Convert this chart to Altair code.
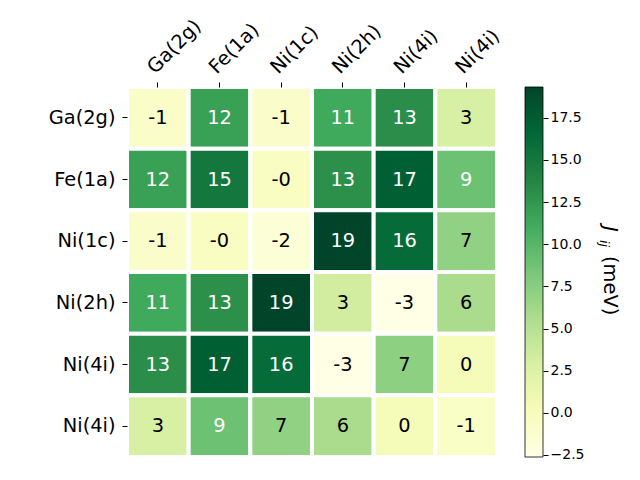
import altair as alt
import pandas as pd

names = ["Ga(2g)", "Fe(1a)", "Ni(1c)", "Ni(2h)", "Ni(4i)", "Ni(4i)"]
row_ga = [-0.8, 11.8, -0.9, 11.2, 13.2, 2.9]
row_fe = [11.8, 15.1, -0.4, 13.0, 17.3, 8.9]
row_n1 = [-0.9, -0.4, -1.6, 19.33, 16.2, 7.1]
row_n2 = [11.2, 13.0, 19.33, 3.3, -2.62, 5.7]
row_n4 = [13.2, 17.3, 16.2, -2.62, 7.2, 0.3]
row_n5 = [2.9, 8.9, 7.1, 5.7, 0.3, -0.7]
matrix = [row_ga, row_fe, row_n1, row_n2, row_n4, row_n5]
cbar_ticks = [-2.5, 0.0, 2.5, 5.0, 7.5, 10.0, 12.5, 15.0, 17.5]

ylgn = ["#ffffe5", "#f7fcb9", "#d9f0a3", "#addd8e", "#78c679",
        "#41ab5d", "#238443", "#006837", "#004529"]

records = []
for i, r in enumerate(matrix):
    for j, v in enumerate(r):
        records.append({"row": i, "col": j, "v": v, "lab": f"{v:.0f}"})
df = pd.DataFrame(records)

lo = min(min(r) for r in matrix)
hi = max(max(r) for r in matrix)
n = len(ylgn)
dom = [lo + (hi - lo) * k / (n - 1) for k in range(n)]
cb = pd.DataFrame([{"lo": lo, "hi": hi}])

FONT = "DejaVu Sans"
FS = 19.4
names_js = "[" + ",".join(f"'{s}'" for s in names) + "]"

xenc = alt.X("col:O", scale=alt.Scale(paddingInner=0, paddingOuter=0),
             axis=alt.Axis(orient="top", title=None, labelAngle=-45, labelAlign="left",
                           labelBaseline="bottom", labelFontSize=FS, labelFont=FONT,
                           labelFontWeight="normal",
                           labelColor="black", tickColor="black", tickSize=5,
                           labelPadding=5, domain=False,
                           labelExpr=names_js + "[datum.value]"))
yenc = alt.Y("row:O", scale=alt.Scale(paddingInner=0, paddingOuter=0),
             axis=alt.Axis(orient="left", title=None, labelFontSize=FS, labelFont=FONT,
                           labelFontWeight="normal",
                           labelColor="black", tickColor="black", tickSize=5,
                           labelPadding=7, domain=False,
                           labelExpr=names_js + "[datum.value]"))

heat = alt.Chart(df).mark_rect(stroke="white", strokeWidth=4).encode(
    x=xenc, y=yenc,
    color=alt.Color("v:Q", scale=alt.Scale(domain=dom, range=ylgn, interpolate="rgb"),
                    legend=None),
)
txt = alt.Chart(df).mark_text(fontSize=FS, font=FONT).encode(
    x=alt.X("col:O"), y=alt.Y("row:O"), text="lab:N",
    color=alt.condition(alt.datum.v > 8.35, alt.value("white"), alt.value("black")),
)
grid = alt.layer(heat, txt)

grad = alt.Gradient(gradient="linear",
                    stops=[alt.GradientStop(offset=k / (n - 1), color=c) for k, c in enumerate(ylgn)],
                    x1=0, x2=0, y1=1, y2=0)
cbar = alt.Chart(cb).mark_rect(fill=grad, stroke="black", strokeWidth=0.8).encode(
    x=alt.value(398), x2=alt.value(416),
    y=alt.Y("lo:Q", scale=alt.Scale(domain=[lo, hi], nice=False, zero=False),
            axis=alt.Axis(orient="right", offset=46, title=None, values=cbar_ticks,
                          labelFontSize=14, labelFont=FONT, labelColor="black",
                          labelFontWeight="normal",
                          tickColor="black", tickSize=5, labelPadding=2, domain=False,
                          grid=False,
                          labelExpr="replace(format(datum.value, '.1f'), '-', '\u2212')")),
    y2="hi:Q",
)

t1 = alt.Chart(cb).mark_text(text="J", fontSize=20, font=FONT, fontStyle="italic", angle=90,
                             align="left", baseline="alphabetic").encode(
    x=alt.value(477), y=alt.value(139))
t2 = alt.Chart(cb).mark_text(text="ij", fontSize=13, font=FONT, fontStyle="italic", angle=90,
                             align="left", baseline="alphabetic").encode(
    x=alt.value(473), y=alt.value(153))
t3 = alt.Chart(cb).mark_text(text="(meV)", fontSize=FS, font=FONT, angle=90,
                             align="left", baseline="alphabetic").encode(
    x=alt.value(477), y=alt.value(169))

chart = alt.layer(grid, cbar, t1, t2, t3).resolve_scale(
    y="independent", color="independent"
).resolve_axis(y="independent").properties(
    width=370, height=370,
    autosize=alt.AutoSizeParams(type="none"),
    padding={"left": 127, "top": 87, "right": 143, "bottom": 23},
).configure_view(stroke=None)

chart.save("out.html", embed_options={"renderer": "svg", "actions": False})
